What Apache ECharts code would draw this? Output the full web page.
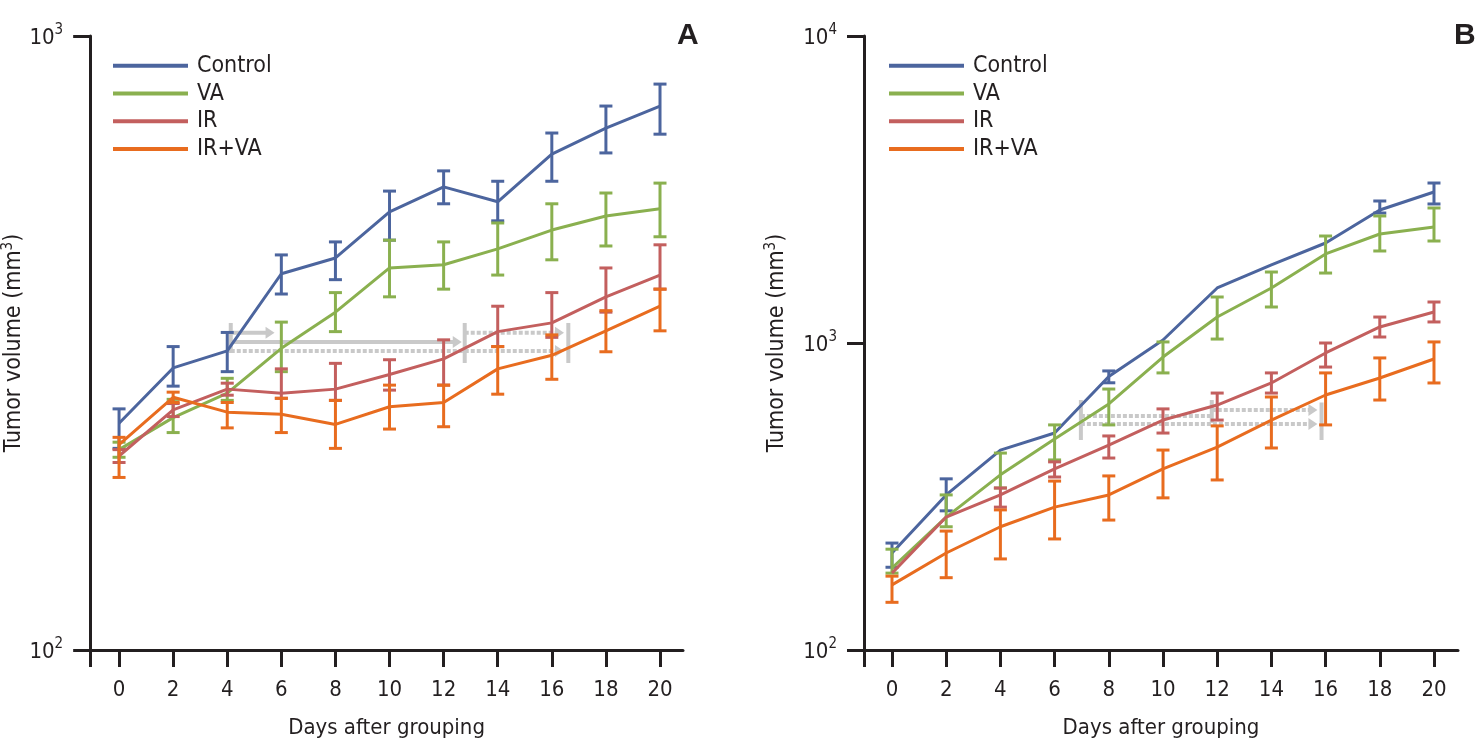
<!DOCTYPE html>
<html><head><meta charset="utf-8">
<script src="https://cdn.jsdelivr.net/npm/echarts@6/dist/echarts.min.js"></script>
<style>html,body{margin:0;padding:0;background:#fff}#c{width:1480px;height:751px}</style>
</head><body><div id="c"></div>
<script>
// ---------- data ----------
const days = [0, 2, 4, 6, 8, 10, 12, 14, 16, 18, 20];
const groupNames = ['Control', 'VA', 'IR', 'IR+VA'];
const dayTicks = [0, 2, 4, 6, 8, 10, 12, 14, 16, 18, 20];

// Panel A (mean, upper, lower of error bar) – mm^3
const aControl   = [234, 288, 307, 410, 435, 517, 568, 537, 642, 708, 769];
const aControlHi = [247, 312, 329, 440, 462, 559, 603, 580, 695, 769, 835];
const aControlLo = [213, 269, 284, 380, 401, 465, 533, 500, 580, 645, 692];
const aVA        = [212, 239, 262, 310, 355, 419, 424, 450, 483, 509, 523];
const aVAHi      = [218, 256, 277, 342, 382, 465, 462, 496, 533, 555, 576];
const aVALo      = [206, 226, 255, 284, 330, 376, 387, 408, 432, 455, 471];
const aIR        = [207, 246, 266, 262, 266, 281, 298, 330, 341, 376, 408];
const aIRHi      = [212, 252, 272, 287, 293, 297, 320, 363, 382, 419, 457];
const aIRLo      = [202, 240, 260, 257, 255, 265, 270, 312, 323, 355, 387];
const aIRVA      = [216, 258, 244, 242, 233, 249, 253, 287, 302, 331, 363];
const aIRVAHi    = [222, 263, 253, 257, 255, 270, 270, 312, 326, 357, 387];
const aIRVALo    = [191, 253, 230, 226, 213, 229, 231, 261, 276, 306, 331];

// Panel B
const bControl   = [207, 320, 448, 509, 778, 1023, 1511, 1796, 2117, 2712, 3104];
const bControlHi = [223, 361, null, null, 811, null, null, null, null, 2901, 3320];
const bControlLo = [186, 284, null, null, 742, null, null, null, null, 2651, 2837];
const bVA        = [185, 271, 372, 487, 633, 900, 1215, 1511, 1950, 2265, 2387];
const bVAHi      = [213, 320, 438, 541, 708, 1008, 1412, 1703, 2231, 2593, 2753];
const bVALo      = [178, 252, 337, 416, 541, 799, 1030, 1310, 1690, 1994, 2149];
const bIR        = [178, 271, 320, 389, 465, 561, 628, 741, 928, 1128, 1262];
const bIRHi      = [null, null, 337, 410, 498, 610, 687, 799, 1000, 1215, 1360];
const bIRLo      = [null, null, 292, 366, 422, 509, 561, 687, 835, 1046, 1171];
const bIRVA      = [163, 207, 252, 292, 320, 389, 458, 561, 677, 769, 887];
const bIRVAHi    = [174, 244, 286, 355, 369, 448, 537, 667, 799, 894, 1008];
const bIRVALo    = [143, 172, 198, 230, 265, 313, 358, 455, 541, 652, 741];

// Gray delay annotations: [dayStart, dayEnd, volume] and bars [day, volLow, volHigh]
const annASolidArrows  = [[4.13, 5.75, 328.5], [4.13, 12.67, 317.4]];
const annADashedArrows = [[4.13, 16.45, 306.9], [12.78, 16.45, 328.5]];
const annADashedLines  = [];
const annABars         = [[4.13, 304.6, 340.9], [12.78, 293.4, 340.9], [16.61, 293.4, 340.9]];
const annBSolidArrows  = [];
const annBDashedArrows = [[11.8, 15.7, 605], [6.97, 15.7, 545]];
const annBDashedLines  = [[6.97, 11.75, 578]];
const annBBars         = [[6.97, 483, 652], [11.8, 549, 652], [15.85, 483, 640]];

// ---------- styles ----------
const colors = {'Control': '#4C659E', 'VA': '#8AB04F', 'IR': '#C35F5E', 'IR+VA': '#E86C1F'};
const gray = '#C9C9C9';
const ink = '#231F20';
const FONT = "'Liberation Sans Narrow', 'DejaVu Sans Condensed', 'Liberation Sans', sans-serif";

const panels = [
  {mean: [aControl, aVA, aIR, aIRVA], hi: [aControlHi, aVAHi, aIRHi, aIRVAHi], lo: [aControlLo, aVALo, aIRLo, aIRVALo],
   solidArrows: annASolidArrows, dashedArrows: annADashedArrows, dashedLines: annADashedLines, bars: annABars},
  {mean: [bControl, bVA, bIR, bIRVA], hi: [bControlHi, bVAHi, bIRHi, bIRVAHi], lo: [bControlLo, bVALo, bIRLo, bIRVALo],
   solidArrows: annBSolidArrows, dashedArrows: annBDashedArrows, dashedLines: annBDashedLines, bars: annBBars}
];

function errRender(color) {
  return function (params, api) {
    const x = api.value(0), lo = api.value(1), hi = api.value(2);
    const t = api.coord([x, hi]), b = api.coord([x, lo]);
    const w = 6.5;
    const st = {stroke: color, lineWidth: 3, fill: null};
    return {type: 'group', children: [
      {type: 'line', shape: {x1: t[0], y1: t[1], x2: b[0], y2: b[1]}, style: st},
      {type: 'line', shape: {x1: t[0] - w, y1: t[1], x2: t[0] + w, y2: t[1]}, style: st},
      {type: 'line', shape: {x1: b[0] - w, y1: b[1], x2: b[0] + w, y2: b[1]}, style: st}
    ]};
  };
}
function arrowRender(dashed, head) {
  return function (params, api) {
    const p1 = api.coord([api.value(0), api.value(2)]);
    const p2 = api.coord([api.value(1), api.value(2)]);
    const st = {stroke: gray, lineWidth: 4, fill: null, lineDash: dashed ? [4, 2] : null};
    const ch = [{type: 'line', shape: {x1: p1[0], y1: p1[1], x2: p2[0] - (head ? 5 : 0), y2: p2[1]}, style: st}];
    if (head) ch.push({type: 'polygon', shape: {points: [[p2[0] - 9, p2[1] - 6], [p2[0], p2[1]], [p2[0] - 9, p2[1] + 6]]}, style: {fill: gray}});
    return {type: 'group', children: ch};
  };
}
function barRender(params, api) {
  const t = api.coord([api.value(0), api.value(2)]);
  const b = api.coord([api.value(0), api.value(1)]);
  return {type: 'line', shape: {x1: t[0], y1: t[1], x2: b[0], y2: b[1]}, style: {stroke: gray, lineWidth: 4}};
}

const grids = [
  {left: 88, top: 36, width: 595, height: 614},
  {left: 864, top: 36, width: 594, height: 614}
];
const xRanges = [[-1.068, 20.85], [-1.033, 20.886]];
const yRanges = [[100, 1000], [100, 10000]];
const nameGaps = [52, 74];

const xAxes = [], yAxes = [], series = [], legends = [], titles = [];
panels.forEach((p, k) => {
  xAxes.push({
    type: 'value', gridIndex: k, min: xRanges[k][0], max: xRanges[k][1],
    axisLine: {show: true, onZero: false, lineStyle: {color: ink, width: 3}},
    axisTick: {show: true, length: 17, lineStyle: {color: ink, width: 3}, customValues: [xRanges[k][0]].concat(dayTicks)},
    axisLabel: {customValues: dayTicks, color: ink, fontFamily: FONT, fontSize: 22, margin: 29},
    splitLine: {show: false},
    name: 'Days after grouping', nameLocation: 'middle', nameGap: 67,
    nameTextStyle: {color: ink, fontFamily: FONT, fontSize: 22}
  });
  yAxes.push({
    type: 'log', logBase: 10, gridIndex: k, min: yRanges[k][0], max: yRanges[k][1],
    axisLine: {show: true, onZero: false, lineStyle: {color: ink, width: 3}},
    axisTick: {show: true, length: 17, lineStyle: {color: ink, width: 3}},
    axisLabel: {
      margin: 27, color: ink, fontFamily: FONT,
      formatter: v => '{n|10}{s|' + Math.round(Math.log10(v)) + '}',
      rich: {n: {fontSize: 22, fontFamily: FONT, color: ink, verticalAlign: 'bottom', lineHeight: 26},
             s: {fontSize: 15, fontFamily: FONT, color: ink, verticalAlign: 'top', lineHeight: 26}}
    },
    splitLine: {show: false},
    name: 'Tumor volume (mm{s|3})', nameLocation: 'middle', nameGap: nameGaps[k],
    nameTextStyle: {color: ink, fontFamily: FONT, fontSize: 23,
      rich: {s: {fontSize: 15, fontFamily: FONT, color: ink, verticalAlign: 'top', lineHeight: 26}}}
  });
  groupNames.forEach((nm, i) => {
    series.push({
      type: 'line', name: nm, xAxisIndex: k, yAxisIndex: k, symbol: 'none',
      lineStyle: {color: colors[nm], width: 3}, itemStyle: {color: colors[nm]},
      data: days.map((d, j) => [d, p.mean[i][j]]), z: 3 + i, animation: false
    });
    series.push({
      type: 'custom', name: nm, xAxisIndex: k, yAxisIndex: k, renderItem: errRender(colors[nm]),
      itemStyle: {color: colors[nm]}, encode: {x: 0, y: [1, 2]},
      data: days.map((d, j) => [d, p.lo[i][j], p.hi[i][j]]).filter(r => r[1] != null && r[2] != null),
      z: 3 + i, animation: false, silent: true
    });
  });
  const ann = [
    [p.solidArrows, arrowRender(false, true)],
    [p.dashedArrows, arrowRender(true, true)],
    [p.dashedLines, arrowRender(true, false)]
  ];
  ann.forEach(([d, r]) => {
    if (d.length) series.push({type: 'custom', xAxisIndex: k, yAxisIndex: k, renderItem: r, encode: {x: [0, 1], y: 2}, data: d, z: 2, silent: true, animation: false});
  });
  series.push({type: 'custom', xAxisIndex: k, yAxisIndex: k, renderItem: barRender, encode: {x: 0, y: [1, 2]}, data: p.bars, z: 2, silent: true, animation: false});
  legends.push({
    left: k === 0 ? 113 : 889, top: 52, padding: 0, orient: 'vertical', itemWidth: 75, itemHeight: 4, itemGap: 0,
    icon: 'rect', data: groupNames, selectedMode: false,
    textStyle: {color: ink, fontFamily: FONT, fontSize: 23, lineHeight: 27.7, padding: [0, 0, 0, 4]}
  });
  titles.push({text: k === 0 ? 'A' : 'B', left: k === 0 ? 672 : 1449, top: 16,
    textStyle: {fontFamily: "'Liberation Sans', Arial, sans-serif", fontWeight: 'bold', fontSize: 30, color: ink}});
});

const chart = echarts.init(document.getElementById('c'), null, {renderer: 'canvas'});
chart.setOption({
  animation: false, backgroundColor: '#fff',
  title: titles, grid: grids, xAxis: xAxes, yAxis: yAxes, legend: legends, series: series
});
</script></body></html>
